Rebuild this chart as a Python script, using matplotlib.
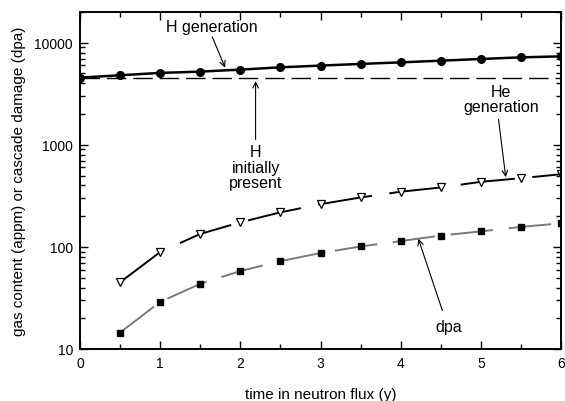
import matplotlib
matplotlib.use("Agg")
import matplotlib.pyplot as plt
from matplotlib.ticker import MultipleLocator, LogLocator, NullFormatter

plt.rcParams['font.family'] = ['Liberation Sans', 'DejaVu Sans']

# data
t = [0, 0.5, 1, 1.5, 2, 2.5, 3, 3.5, 4, 4.5, 5, 5.5, 6]
h_gen = [4550, 4800, 5060, 5210, 5450, 5740, 5970, 6200, 6420, 6670, 6930, 7190, 7350]
h_init = 4500

t_he = [0.5, 1, 1.5, 2, 2.5, 3, 3.5, 4, 4.5, 5, 5.5, 6]
he_gen = [45, 89, 134, 174, 218, 262, 305, 347, 382, 434, 471, 515]
dpa = [14.5, 28.9, 43.5, 58, 72.5, 87, 101, 114, 129, 142, 157, 170]

fig = plt.figure(figsize=(5.65, 4.02), dpi=100)
ax = fig.add_axes([0.1416, 0.1294, 0.8514, 0.8383])

ax.plot([0, 6], [h_init, h_init], color='black', lw=1.0, dashes=(14, 5))
ax.plot(t, h_gen, color='black', lw=1.8, marker='o', ms=5.5)
ax.plot(t_he, he_gen, color='black', lw=1.4, dashes=(28, 9),
        marker='v', ms=6, mfc='white', mec='black', mew=0.9)
ax.plot(t_he, dpa, color='#7a7a7a', lw=1.4, dashes=(22, 8),
        marker='s', ms=4.5, mfc='black', mec='black')

ax.set_yscale('log')
ax.set_xlim(0, 6)
ax.set_ylim(10, 20000)
ax.set_yticks([10, 100, 1000, 10000])
ax.set_yticklabels(['10', '100', '1000', '10000'])
ax.yaxis.set_minor_locator(LogLocator(base=10, subs=range(2, 10)))
ax.yaxis.set_minor_formatter(NullFormatter())
ax.xaxis.set_major_locator(MultipleLocator(1))
ax.xaxis.set_minor_locator(MultipleLocator(0.5))

ax.tick_params(which='both', direction='in', top=True, right=True,
               labelsize=10, width=1)
ax.tick_params(which='major', length=6, pad=5)
ax.tick_params(which='minor', length=3.5)
for s in ax.spines.values():
    s.set_linewidth(1.4)

ax.set_xlabel('time in neutron flux (y)', fontsize=11, labelpad=12)
ax.set_ylabel('gas content (appm) or cascade damage (dpa)', fontsize=11, labelpad=6)

# labels and their arrows
fs = 11.5
arrow = dict(arrowstyle='->', color='black', lw=0.8, shrinkA=0, shrinkB=0)
ax.text(1.65, 14300, 'H generation', ha='center', va='center', fontsize=fs)
ax.annotate('', xy=(1.81, 5700), xytext=(1.65, 11400), arrowprops=arrow)

ax.text(2.19, 603, 'H\ninitially\npresent', ha='center', va='center',
        fontsize=fs, linespacing=1.05)
ax.annotate('', xy=(2.19, 4200), xytext=(2.19, 1130), arrowprops=arrow)

ax.text(5.25, 2810, 'He\ngeneration', ha='center', va='center',
        fontsize=fs, linespacing=1.05)
ax.annotate('', xy=(5.31, 482), xytext=(5.22, 1775), arrowprops=arrow)

ax.text(4.6, 16.6, 'dpa', ha='center', va='center', fontsize=fs)
ax.annotate('', xy=(4.22, 120), xytext=(4.52, 23.8), arrowprops=arrow)

fig.savefig('out.png', dpi=100)
